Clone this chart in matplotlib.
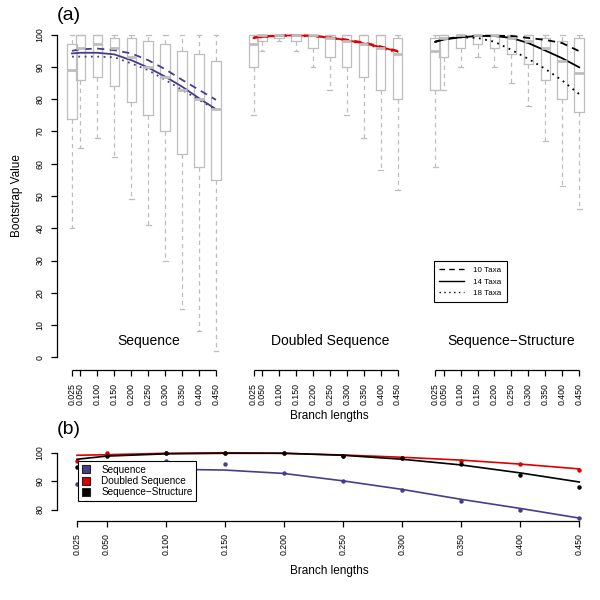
import numpy as np
import matplotlib
matplotlib.use("Agg")
import matplotlib.pyplot as plt
from matplotlib.lines import Line2D

plt.rcParams['font.family'] = ['Liberation Sans', 'DejaVu Sans']

# ---------------- data ----------------
branch = [0.025, 0.05, 0.10, 0.15, 0.20, 0.25, 0.30, 0.35, 0.40, 0.45]
branch_labels = ["0.025", "0.050", "0.100", "0.150", "0.200",
                 "0.250", "0.300", "0.350", "0.400", "0.450"]
groups = ["Sequence", "Doubled Sequence", "Sequence\u2212Structure"]

# box statistics per group (low whisker, Q1, median, Q3, high whisker)
seq_lo  = [40, 65, 68, 62, 49, 41, 30, 15, 8, 2]
seq_q1  = [74, 86, 87, 84, 79, 75, 70, 63, 59, 55]
seq_med = [89, 96, 97, 96, 93, 90, 87, 83, 80, 77]
seq_q3  = [97, 100, 100, 99, 99, 98, 97, 95, 94, 92]
seq_hi  = [100, 100, 100, 100, 100, 100, 100, 100, 100, 100]

dbl_lo  = [75, 95, 98, 95, 90, 83, 75, 68, 58, 52]
dbl_q1  = [90, 98, 99, 98, 96, 93, 90, 87, 83, 80]
dbl_med = [97, 100, 100, 100, 100, 99, 98, 97, 96, 94]
dbl_q3  = [100, 100, 100, 100, 100, 100, 100, 100, 100, 99]
dbl_hi  = [100, 100, 100, 100, 100, 100, 100, 100, 100, 100]

ss_lo  = [59, 83, 90, 93, 90, 85, 78, 67, 53, 46]
ss_q1  = [83, 93, 96, 97, 96, 94, 91, 86, 80, 76]
ss_med = [95, 99, 100, 100, 100, 99, 98, 96, 92, 88]
ss_q3  = [99, 100, 100, 100, 100, 100, 100, 99, 98, 99]
ss_hi  = [100, 100, 100, 100, 100, 100, 100, 100, 100, 100]

# fitted curves per number of taxa
seq_t10 = [95.0, 95.5, 95.7, 95.2, 94.2, 92.1, 89.3, 86.0, 82.9, 79.8]
seq_t14 = [94.2, 94.4, 94.4, 93.9, 92.1, 89.8, 87.0, 83.9, 80.3, 76.9]
seq_t18 = [93.2, 93.2, 93.2, 93.0, 91.1, 89.0, 86.0, 82.9, 79.8, 76.7]

dbl_t10 = [99.2, 99.5, 99.8, 99.9, 99.7, 99.2, 98.5, 97.6, 96.4, 95.0]
dbl_t14 = [99.0, 99.3, 99.7, 99.8, 99.6, 99.1, 98.3, 97.3, 96.2, 94.8]
dbl_t18 = [98.9, 99.2, 99.6, 99.7, 99.5, 99.0, 98.2, 97.1, 95.9, 94.5]

ss_t10 = [97.8, 98.6, 99.4, 99.7, 99.7, 99.6, 99.0, 98.4, 97.4, 94.9]
ss_t14 = [97.8, 98.5, 99.2, 99.6, 99.6, 99.0, 97.4, 95.1, 92.7, 89.9]
ss_t18 = [97.8, 98.5, 99.2, 99.0, 97.8, 95.3, 92.5, 89.4, 85.8, 81.6]

# panel (b): medians per method
b_seq = [89, 96, 97, 96, 93, 90, 87, 83, 80, 77]
b_dbl = [97, 100, 100, 100, 100, 99, 98, 97, 96, 94]
b_ss  = [95, 99, 100, 100, 100, 99, 98, 96, 92, 88]

# panel (b): smoothed fits
b_seq_fit = [94.5, 94.4, 94.2, 93.9, 92.7, 90.1, 87.1, 83.6, 80.4, 77.0]
b_dbl_fit = [99.1, 99.3, 99.8, 100.0, 99.8, 99.2, 98.4, 97.4, 96.0, 94.3]
b_ss_fit  = [97.7, 98.8, 99.6, 99.8, 99.8, 99.1, 97.7, 95.7, 92.9, 89.7]

# ---------------- style ----------------
BLUE = '#483D8B'
RED = '#DD0000'
BLACK = '#000000'
GRAY = '#BEBEBE'
group_offsets = [0.0, 0.536, 1.072]

box_data = [
    (seq_lo, seq_q1, seq_med, seq_q3, seq_hi),
    (dbl_lo, dbl_q1, dbl_med, dbl_q3, dbl_hi),
    (ss_lo, ss_q1, ss_med, ss_q3, ss_hi),
]
curve_data = [
    (seq_t10, seq_t14, seq_t18, BLUE),
    (dbl_t10, dbl_t14, dbl_t18, RED),
    (ss_t10, ss_t14, ss_t18, BLACK),
]

fig = plt.figure(figsize=(6, 6), dpi=100)

# ---------------- panel (a) ----------------
W, H = 600.0, 600.0
ax = fig.add_axes([57 / W, 1 - 370.2 / H, (590 - 57) / W, (370.2 - 21.8) / H])
ax.set_xlim(-0.01927, 1.554)
ax.set_ylim(-4, 104)

br = np.array(branch)
all_pos = []
all_lab = []
for g, (lo, q1, med, q3, hi) in enumerate(box_data):
    pos = br + group_offsets[g]
    stats = []
    for i in range(len(branch)):
        stats.append(dict(whislo=lo[i], q1=q1[i], med=med[i], q3=q3[i],
                          whishi=hi[i], fliers=[]))
    ax.bxp(stats, positions=pos, widths=0.028, capwidths=0.014,
           showfliers=False, manage_ticks=False,
           boxprops=dict(color=GRAY, lw=0.9),
           whiskerprops=dict(color=GRAY, lw=0.9, ls=(0, (3.5, 3))),
           capprops=dict(color=GRAY, lw=0.9),
           medianprops=dict(color=GRAY, lw=2.0))
    t10, t14, t18, col = curve_data[g]
    ax.plot(pos, t10, color=col, lw=1.3, ls=(0, (4, 3)))
    ax.plot(pos, t14, color=col, lw=1.3, ls='-')
    ax.plot(pos, t18, color=col, lw=1.3, ls=(0, (1, 2.5)))
    ax.hlines(-4, pos[0], pos[-1], color='black', lw=0.9, clip_on=False)
    ax.text(group_offsets[g] + 0.25, 5.0, groups[g], ha='center', va='center',
            fontsize=10)
    all_pos.extend(pos)
    all_lab.extend(branch_labels)

ax.set_xticks(all_pos)
ax.set_xticklabels(all_lab, rotation=90, fontsize=6.3)
ax.set_yticks(np.arange(0, 101, 10))
ax.set_yticklabels([str(v) for v in range(0, 101, 10)], rotation=90,
                   fontsize=6.3, va='center')
ax.tick_params(axis='both', length=4, width=0.9, direction='out', pad=5)
for s in ['top', 'right', 'bottom']:
    ax.spines[s].set_visible(False)
ax.spines['left'].set_bounds(0, 100)
ax.spines['left'].set_linewidth(0.9)

leg_a = [Line2D([], [], color='black', lw=1, ls=(0, (4, 3))),
         Line2D([], [], color='black', lw=1, ls='-'),
         Line2D([], [], color='black', lw=1, ls=(0, (1, 2.5)))]
lg = ax.legend(leg_a, ["10 Taxa", "14 Taxa", "18 Taxa"], loc='upper left',
               bbox_to_anchor=(0.707, 0.3134), borderaxespad=0, fontsize=5.8,
               fancybox=False, framealpha=1, edgecolor='black',
               handlelength=3.0, labelspacing=0.45, borderpad=0.7,
               handletextpad=1.2)
lg.get_frame().set_linewidth(0.8)

fig.text(17 / W, 1 - 196 / H, "Bootstrap Value", rotation=90, ha='center',
         va='center', fontsize=8.5)
fig.text(329 / W, 1 - 416 / H, "Branch lengths", ha='center', va='center',
         fontsize=8.5)
fig.text(69 / W, 1 - 15 / H, "(a)", ha='center', va='center', fontsize=14)

# ---------------- panel (b) ----------------
axb = fig.add_axes([56.9 / W, 1 - 520.7 / H, (599.4 - 56.9) / W,
                    (520.7 - 450.1) / H])
axb.set_xlim(0.008, 0.467)
axb.set_ylim(76.08, 100.92)
for vals, fit, col in [(b_seq, b_seq_fit, BLUE), (b_dbl, b_dbl_fit, RED),
                       (b_ss, b_ss_fit, BLACK)]:
    axb.plot(br, fit, color=col, lw=1.2)
    axb.plot(br, vals, 'o', color=col, ms=3.2, mec='none', clip_on=False)

axb.set_xticks(branch)
axb.set_xticklabels(branch_labels, rotation=90, fontsize=6.3)
axb.set_yticks([80, 90, 100])
axb.set_yticklabels(["80", "90", "100"], rotation=90, fontsize=6.3,
                    va='center')
axb.tick_params(axis='both', length=4, width=0.9, direction='out', pad=5)
for s in ['top', 'right']:
    axb.spines[s].set_visible(False)
axb.spines['left'].set_bounds(80, 100)
axb.spines['bottom'].set_bounds(branch[0], branch[-1])
axb.spines['left'].set_linewidth(0.9)
axb.spines['bottom'].set_linewidth(0.9)

leg_b = [Line2D([], [], ls='none', marker='s', ms=6, mfc=c, mec='#222222',
                mew=0.8) for c in [BLUE, RED, BLACK]]
lgb = axb.legend(leg_b, groups, loc='upper left',
                 bbox_to_anchor=(0.0385, 0.84), borderaxespad=0, fontsize=7.2,
                 fancybox=False, framealpha=1, edgecolor='black',
                 handlelength=1.0, labelspacing=0.12, borderpad=0.35,
                 handletextpad=1.0)
lgb.get_frame().set_linewidth(0.8)
lgb.set_zorder(5)

fig.text(329 / W, 1 - 571 / H, "Branch lengths", ha='center', va='center',
         fontsize=8.5)
fig.text(69 / W, 1 - 430 / H, "(b)", ha='center', va='center', fontsize=14)

fig.savefig("out.png", dpi=100)
